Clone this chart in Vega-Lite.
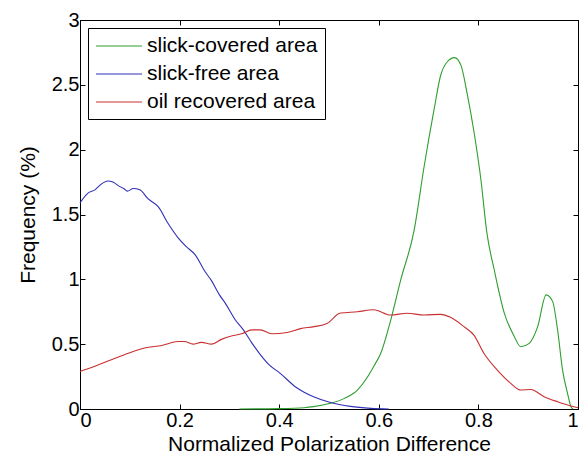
{
  "$schema": "https://vega.github.io/schema/vega-lite/v6.json",
  "width": 498,
  "height": 389,
  "autosize": {"type": "none"},
  "padding": {"left": 80, "top": 20, "right": 4, "bottom": 52},
  "background": "white",
  "config": {
    "font": "Liberation Sans",
    "view": {"stroke": "black", "strokeWidth": 1},
    "axis": {
      "grid": false,
      "domainColor": "black",
      "tickColor": "black",
      "labelColor": "black",
      "titleColor": "black",
      "labelFontSize": 20,
      "titleFontSize": 21,
      "titleFontWeight": "normal",
      "tickSize": -5,
      "labelPadding": 6
    },
    "legend": {
      "labelFontSize": 21,
      "labelColor": "black",
      "labelLimit": 400
    }
  },
  "data": {
    "values": [
      {"series": "slick-covered area", "x": 0.32, "y": 0},
      {"series": "slick-covered area", "x": 0.40, "y": 0.003},
      {"series": "slick-covered area", "x": 0.45, "y": 0.01},
      {"series": "slick-covered area", "x": 0.469, "y": 0.018},
      {"series": "slick-covered area", "x": 0.503, "y": 0.044},
      {"series": "slick-covered area", "x": 0.53, "y": 0.08},
      {"series": "slick-covered area", "x": 0.557, "y": 0.146},
      {"series": "slick-covered area", "x": 0.577, "y": 0.245},
      {"series": "slick-covered area", "x": 0.59, "y": 0.33},
      {"series": "slick-covered area", "x": 0.604, "y": 0.43},
      {"series": "slick-covered area", "x": 0.624, "y": 0.686},
      {"series": "slick-covered area", "x": 0.644, "y": 0.995},
      {"series": "slick-covered area", "x": 0.671, "y": 1.38},
      {"series": "slick-covered area", "x": 0.691, "y": 1.87},
      {"series": "slick-covered area", "x": 0.711, "y": 2.31},
      {"series": "slick-covered area", "x": 0.724, "y": 2.57},
      {"series": "slick-covered area", "x": 0.738, "y": 2.68},
      {"series": "slick-covered area", "x": 0.752, "y": 2.71},
      {"series": "slick-covered area", "x": 0.765, "y": 2.65},
      {"series": "slick-covered area", "x": 0.778, "y": 2.42},
      {"series": "slick-covered area", "x": 0.791, "y": 2.14},
      {"series": "slick-covered area", "x": 0.805, "y": 1.77},
      {"series": "slick-covered area", "x": 0.817, "y": 1.36},
      {"series": "slick-covered area", "x": 0.832, "y": 1.07},
      {"series": "slick-covered area", "x": 0.852, "y": 0.74},
      {"series": "slick-covered area", "x": 0.872, "y": 0.56},
      {"series": "slick-covered area", "x": 0.885, "y": 0.48},
      {"series": "slick-covered area", "x": 0.902, "y": 0.506},
      {"series": "slick-covered area", "x": 0.919, "y": 0.635},
      {"series": "slick-covered area", "x": 0.936, "y": 0.88},
      {"series": "slick-covered area", "x": 0.949, "y": 0.83},
      {"series": "slick-covered area", "x": 0.959, "y": 0.61},
      {"series": "slick-covered area", "x": 0.969, "y": 0.30},
      {"series": "slick-covered area", "x": 0.979, "y": 0.12},
      {"series": "slick-covered area", "x": 0.986, "y": 0.018},
      {"series": "slick-covered area", "x": 0.99, "y": 0},

      {"series": "slick-free area", "x": 0, "y": 1.59},
      {"series": "slick-free area", "x": 0.016, "y": 1.665},
      {"series": "slick-free area", "x": 0.03, "y": 1.69},
      {"series": "slick-free area", "x": 0.043, "y": 1.735},
      {"series": "slick-free area", "x": 0.056, "y": 1.758},
      {"series": "slick-free area", "x": 0.066, "y": 1.75},
      {"series": "slick-free area", "x": 0.08, "y": 1.715},
      {"series": "slick-free area", "x": 0.088, "y": 1.70},
      {"series": "slick-free area", "x": 0.095, "y": 1.68},
      {"series": "slick-free area", "x": 0.107, "y": 1.70},
      {"series": "slick-free area", "x": 0.12, "y": 1.69},
      {"series": "slick-free area", "x": 0.137, "y": 1.62},
      {"series": "slick-free area", "x": 0.157, "y": 1.56},
      {"series": "slick-free area", "x": 0.177, "y": 1.43},
      {"series": "slick-free area", "x": 0.197, "y": 1.32},
      {"series": "slick-free area", "x": 0.214, "y": 1.25},
      {"series": "slick-free area", "x": 0.231, "y": 1.19},
      {"series": "slick-free area", "x": 0.251, "y": 1.06},
      {"series": "slick-free area", "x": 0.264, "y": 0.99},
      {"series": "slick-free area", "x": 0.28, "y": 0.88},
      {"series": "slick-free area", "x": 0.291, "y": 0.82},
      {"series": "slick-free area", "x": 0.312, "y": 0.686},
      {"series": "slick-free area", "x": 0.328, "y": 0.61},
      {"series": "slick-free area", "x": 0.345, "y": 0.51},
      {"series": "slick-free area", "x": 0.362, "y": 0.42},
      {"series": "slick-free area", "x": 0.38, "y": 0.34},
      {"series": "slick-free area", "x": 0.402, "y": 0.275},
      {"series": "slick-free area", "x": 0.433, "y": 0.17},
      {"series": "slick-free area", "x": 0.45, "y": 0.13},
      {"series": "slick-free area", "x": 0.469, "y": 0.095},
      {"series": "slick-free area", "x": 0.503, "y": 0.05},
      {"series": "slick-free area", "x": 0.543, "y": 0.02},
      {"series": "slick-free area", "x": 0.584, "y": 0.005},
      {"series": "slick-free area", "x": 0.62, "y": 0},

      {"series": "oil recovered area", "x": 0, "y": 0.29},
      {"series": "oil recovered area", "x": 0.03, "y": 0.33},
      {"series": "oil recovered area", "x": 0.063, "y": 0.38},
      {"series": "oil recovered area", "x": 0.097, "y": 0.43},
      {"series": "oil recovered area", "x": 0.13, "y": 0.47},
      {"series": "oil recovered area", "x": 0.164, "y": 0.49},
      {"series": "oil recovered area", "x": 0.197, "y": 0.52},
      {"series": "oil recovered area", "x": 0.21, "y": 0.52},
      {"series": "oil recovered area", "x": 0.227, "y": 0.50},
      {"series": "oil recovered area", "x": 0.244, "y": 0.514},
      {"series": "oil recovered area", "x": 0.264, "y": 0.50},
      {"series": "oil recovered area", "x": 0.284, "y": 0.537},
      {"series": "oil recovered area", "x": 0.304, "y": 0.563},
      {"series": "oil recovered area", "x": 0.325, "y": 0.58},
      {"series": "oil recovered area", "x": 0.345, "y": 0.61},
      {"series": "oil recovered area", "x": 0.362, "y": 0.61},
      {"series": "oil recovered area", "x": 0.385, "y": 0.58},
      {"series": "oil recovered area", "x": 0.416, "y": 0.59},
      {"series": "oil recovered area", "x": 0.443, "y": 0.62},
      {"series": "oil recovered area", "x": 0.47, "y": 0.635},
      {"series": "oil recovered area", "x": 0.496, "y": 0.66},
      {"series": "oil recovered area", "x": 0.523, "y": 0.74},
      {"series": "oil recovered area", "x": 0.557, "y": 0.75},
      {"series": "oil recovered area", "x": 0.59, "y": 0.765},
      {"series": "oil recovered area", "x": 0.624, "y": 0.725},
      {"series": "oil recovered area", "x": 0.657, "y": 0.738},
      {"series": "oil recovered area", "x": 0.691, "y": 0.725},
      {"series": "oil recovered area", "x": 0.724, "y": 0.73},
      {"series": "oil recovered area", "x": 0.744, "y": 0.707},
      {"series": "oil recovered area", "x": 0.771, "y": 0.635},
      {"series": "oil recovered area", "x": 0.791, "y": 0.57},
      {"series": "oil recovered area", "x": 0.811, "y": 0.43},
      {"series": "oil recovered area", "x": 0.838, "y": 0.30},
      {"series": "oil recovered area", "x": 0.865, "y": 0.198},
      {"series": "oil recovered area", "x": 0.885, "y": 0.146},
      {"series": "oil recovered area", "x": 0.905, "y": 0.15},
      {"series": "oil recovered area", "x": 0.932, "y": 0.095},
      {"series": "oil recovered area", "x": 0.959, "y": 0.056},
      {"series": "oil recovered area", "x": 0.986, "y": 0.023},
      {"series": "oil recovered area", "x": 1.0, "y": 0.01}
    ]
  },
  "layer": [
    {
      "mark": {"type": "line", "strokeWidth": 1.1, "interpolate": "monotone"},
      "encoding": {
        "x": {
          "field": "x", "type": "quantitative",
          "scale": {"domain": [0, 1], "nice": false},
          "axis": {"title": "Normalized Polarization Difference", "values": [0, 0.2, 0.4, 0.6, 0.8, 1], "labelExpr": "'' + datum.value", "titlePadding": 3}
        },
        "y": {
          "field": "y", "type": "quantitative",
          "scale": {"domain": [0, 3], "nice": false},
          "axis": {"title": "Frequency (%)", "values": [0, 0.5, 1, 1.5, 2, 2.5, 3], "labelExpr": "'' + datum.value", "titlePadding": 13}
        },
        "color": {
          "field": "series", "type": "nominal",
          "scale": {"domain": ["slick-covered area", "slick-free area", "oil recovered area"], "range": ["#2e9e2e", "#3030b8", "#c83030"]},
          "legend": {
            "title": null,
            "orient": "top-left",
            "offset": 8,
            "padding": 7,
            "strokeColor": "black",
            "fillColor": "white",
            "symbolType": "M-1,0H3.6",
            "symbolSize": 400,
            "symbolStrokeWidth": 1.2,
            "labelOffset": 30,
            "rowPadding": 7
          }
        }
      }
    },
    {
      "mark": {"type": "line", "strokeOpacity": 0},
      "encoding": {
        "x": {
          "field": "x", "type": "quantitative",
          "axis": {"orient": "top", "title": null, "labels": false, "values": [0, 0.2, 0.4, 0.6, 0.8, 1]}
        },
        "y": {
          "field": "y", "type": "quantitative",
          "axis": {"orient": "right", "title": null, "labels": false, "values": [0, 0.5, 1, 1.5, 2, 2.5, 3]}
        },
        "detail": {"field": "series", "type": "nominal"}
      }
    }
  ],
  "resolve": {"axis": {"x": "independent", "y": "independent"}}
}
